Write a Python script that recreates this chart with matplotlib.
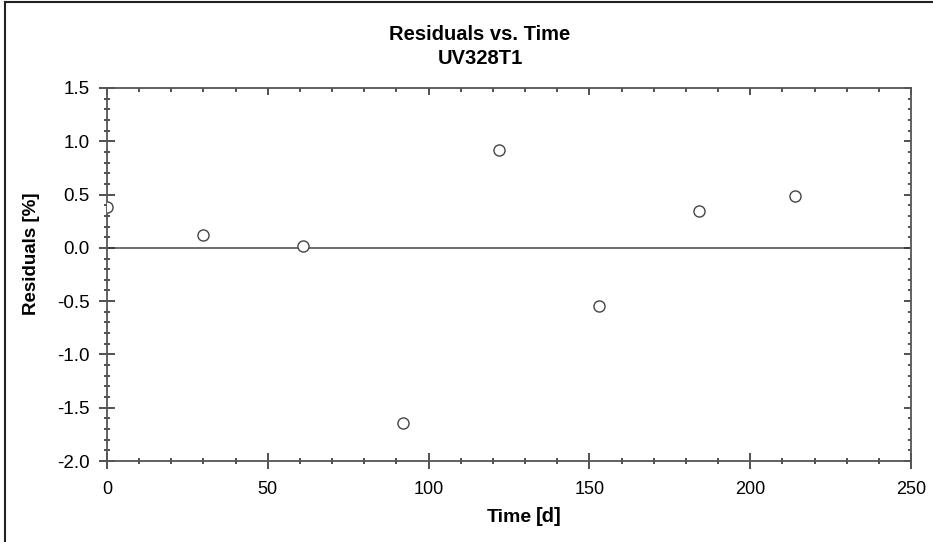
import matplotlib.pyplot as plt
from matplotlib.lines import Line2D
from matplotlib.ticker import MultipleLocator

plt.rcParams['font.family'] = ['Liberation Sans', 'DejaVu Sans']

time_d = [0, 30, 61, 92, 122, 153, 184, 214]
residuals = [0.38, 0.12, 0.02, -1.64, 0.92, -0.55, 0.35, 0.49]

fig = plt.figure(figsize=(9.33, 5.42), dpi=100)
ax = fig.add_axes([107/933, 1 - 461/542, (911 - 107)/933, (461 - 88)/542])

ax.axhline(0, color='#555555', lw=1.2, zorder=1)
ax.plot(time_d, residuals, 'o', mfc='white', mec='#444444', ms=8, mew=1.0, zorder=3)

ax.set_xlim(0, 250)
ax.set_ylim(-2.0, 1.5)
ax.xaxis.set_major_locator(MultipleLocator(50))
ax.xaxis.set_minor_locator(MultipleLocator(10))
ax.yaxis.set_major_locator(MultipleLocator(0.5))
ax.yaxis.set_minor_locator(MultipleLocator(0.1))
ax.yaxis.set_major_formatter(lambda v, p: f'{v:.1f}')

for s in ax.spines.values():
    s.set_color('#555555')
    s.set_linewidth(1.3)

ax.tick_params(which='both', direction='inout', colors='#333333', labelcolor='black',
               top=True, right=True)
ax.tick_params(which='major', length=11, width=1.2)
ax.tick_params(which='minor', length=5, width=1.2)
ax.tick_params(axis='x', which='major', pad=9, labelsize=13)
ax.tick_params(axis='y', which='major', pad=7, labelsize=13.5)
# ticks on top and right point inward only, shorter
for t in ax.xaxis.get_major_ticks():
    t.tick2line.set_marker(3)
    t.tick2line.set_markersize(5)
for t in ax.xaxis.get_minor_ticks():
    t.tick2line.set_marker(3)
    t.tick2line.set_markersize(3)
for t in ax.yaxis.get_major_ticks():
    t.tick2line.set_marker(0)
    t.tick2line.set_markersize(5)
for t in ax.yaxis.get_minor_ticks():
    t.tick2line.set_marker(0)
    t.tick2line.set_markersize(2.5)

fig.text(480/933, 1 - 35/542, 'Residuals vs. Time', ha='center', va='center',
         fontsize=14.5, fontweight='bold')
fig.text(480/933, 1 - 59/542, 'UV328T1', ha='center', va='center',
         fontsize=14.5, fontweight='bold')
fig.text(31/933, 1 - 254/542, 'Residuals [%]', ha='center', va='center',
         rotation=90, fontsize=13.5, fontweight='bold')
fig.text(532/933, 1 - 518/542, 'Time', ha='right', va='center',
         fontsize=14, fontweight='bold')
fig.text(536/933, 1 - 517/542, '[d]', ha='left', va='center',
         fontsize=14.5, fontweight='bold')

# frame of the captured window: left and top edges only
fig.add_artist(Line2D([4.5/933, 4.5/933], [0, 1 - 2/542], transform=fig.transFigure,
                      color='#222222', lw=1.5))
fig.add_artist(Line2D([4.5/933, 1], [1 - 2/542, 1 - 2/542], transform=fig.transFigure,
                      color='#222222', lw=1.5))

fig.savefig('out.png', dpi=100)
